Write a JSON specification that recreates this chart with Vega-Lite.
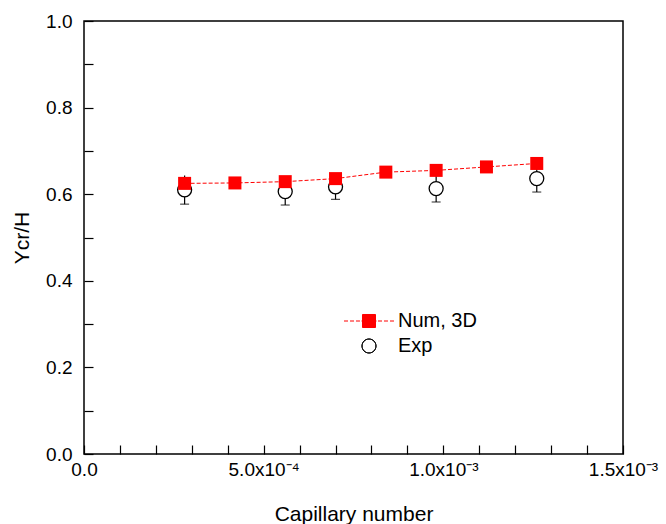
{
  "$schema": "https://vega.github.io/schema/vega-lite/v6.json",
  "autosize": "none",
  "padding": {"left": 84, "top": 21, "right": 43, "bottom": 70},
  "width": 539,
  "height": 433,
  "background": "white",
  "config": {
    "view": {"stroke": "black", "strokeWidth": 1.5},
    "font": "Liberation Sans",
    "axis": {"labelFont": "Liberation Sans", "titleFont": "Liberation Sans", "labelColor": "black", "titleColor": "black", "tickColor": "black", "domain": false, "grid": false, "titleFontWeight": "normal"}
  },
  "data": {
    "values": [
      {"series": "Num, 3D", "x": 0.00028, "y": 0.625},
      {"series": "Num, 3D", "x": 0.00042, "y": 0.626},
      {"series": "Num, 3D", "x": 0.00056, "y": 0.629},
      {"series": "Num, 3D", "x": 0.00070, "y": 0.636},
      {"series": "Num, 3D", "x": 0.00084, "y": 0.651},
      {"series": "Num, 3D", "x": 0.00098, "y": 0.655},
      {"series": "Num, 3D", "x": 0.00112, "y": 0.663},
      {"series": "Num, 3D", "x": 0.00126, "y": 0.671},
      {"series": "Exp", "x": 0.00028, "y": 0.610, "lo": 0.577, "hi": 0.643},
      {"series": "Exp", "x": 0.00056, "y": 0.606, "lo": 0.575, "hi": 0.637},
      {"series": "Exp", "x": 0.00070, "y": 0.617, "lo": 0.588, "hi": 0.646},
      {"series": "Exp", "x": 0.00098, "y": 0.613, "lo": 0.582, "hi": 0.644},
      {"series": "Exp", "x": 0.00126, "y": 0.636, "lo": 0.605, "hi": 0.667}
    ]
  },
  "encoding": {
    "x": {
      "field": "x", "type": "quantitative",
      "scale": {"domain": [0, 0.0015], "nice": false, "zero": false},
      "axis": {
        "title": "Capillary number",
        "titleFontSize": 21,
        "titlePadding": 24,
        "values": [0, 0.0001, 0.0002, 0.0003, 0.0004, 0.0005, 0.0006, 0.0007, 0.0008, 0.0009, 0.001, 0.0011, 0.0012, 0.0013, 0.0014, 0.0015],
        "labelExpr": "round(datum.value*1e4) == 0 ? '0.0' : round(datum.value*1e4) == 5 ? '5.0x10⁻⁴' : round(datum.value*1e4) == 10 ? '1.0x10⁻³' : round(datum.value*1e4) == 15 ? '1.5x10⁻³' : ''",
        "labelFontSize": 19,
        "labelPadding": 15,
        "labelFlush": false,
        "labelOverlap": false,
        "tickSize": -9,
        "tickWidth": 1.2,
        "encode": {"ticks": {"update": {"y2": {"signal": "round(datum.value*1e4) % 5 == 0 ? -9 : -5"}}}}
      }
    },
    "y": {
      "field": "y", "type": "quantitative",
      "scale": {"domain": [0, 1], "nice": false, "zero": false},
      "axis": {
        "title": "Ycr/H",
        "titleFontSize": 21,
        "titlePadding": 13,
        "values": [0, 0.1, 0.2, 0.3, 0.4, 0.5, 0.6, 0.7, 0.8, 0.9, 1.0],
        "labelExpr": "round(datum.value*10) % 2 == 0 ? format(datum.value, '.1f') : ''",
        "labelFontSize": 19,
        "labelPadding": 21,
        "labelFlush": false,
        "labelOverlap": false,
        "tickSize": -9,
        "tickWidth": 1.2,
        "encode": {"ticks": {"update": {"x2": {"signal": "round(datum.value*10) % 2 == 0 ? 9 : 5"}}}}
      }
    }
  },
  "layer": [
    {
      "transform": [{"filter": "datum.series === 'Exp'"}],
      "mark": {"type": "rule", "color": "black", "strokeWidth": 1.2},
      "encoding": {"y": {"field": "lo", "type": "quantitative"}, "y2": {"field": "hi"}}
    },
    {
      "transform": [{"filter": "datum.series === 'Exp'"}],
      "mark": {"type": "tick", "orient": "horizontal", "color": "black", "size": 9, "thickness": 1.2},
      "encoding": {"y": {"field": "lo", "type": "quantitative"}}
    },
    {
      "transform": [{"filter": "datum.series === 'Exp'"}],
      "mark": {"type": "point", "shape": "circle", "size": 196, "filled": false, "fill": "white", "stroke": "black", "strokeWidth": 1.3, "opacity": 1}
    },
    {
      "transform": [{"filter": "datum.series === 'Num, 3D'"}],
      "mark": {"type": "line", "color": "#ff0000", "strokeWidth": 1, "strokeDash": [4, 2]},
      "encoding": {}
    },
    {
      "transform": [{"filter": "datum.series === 'Num, 3D'"}],
      "mark": {"type": "point", "shape": "square", "size": 169, "filled": true, "color": "#ff0000", "opacity": 1}
    },
    {
      "mark": {"type": "point", "opacity": 0, "size": 196, "strokeWidth": 1, "filled": true, "fill": "#ff0000"},
      "encoding": {
        "shape": {
          "field": "series", "type": "nominal",
          "scale": {"domain": ["Num, 3D", "Exp"], "range": ["M-3.57,0H-3.0M-2.71,0H-2.14M-1.86,0H-1.29M-1.07,0H-0.93M0.93,0H1.07M1.29,0H1.86M2.14,0H2.71M3.0,0H3.57M-0.93,-0.93H0.93V0.93H-0.93Z", "M1,0A1,1,0,1,1,-1,0A1,1,0,1,1,1,0ZM0.999,0A0.999,0.999,0,1,0,-0.999,0A0.999,0.999,0,1,0,0.999,0Z"]},
          "legend": {
            "title": null,
            "orient": "none",
            "legendX": 275,
            "legendY": 290,
            "symbolSize": 196,
            "symbolOpacity": 1,
            "symbolFillColor": "#ff0000",
            "labelFont": "Liberation Sans",
            "labelFontSize": 20,
            "labelColor": "black",
            "labelOffset": 19,
            "rowPadding": 5,
            "symbolStrokeWidth": 1
          }
        },
        "stroke": {
          "field": "series", "type": "nominal",
          "scale": {"domain": ["Num, 3D", "Exp"], "range": ["#ff0000", "black"]}
        }
      }
    }
  ]
}
